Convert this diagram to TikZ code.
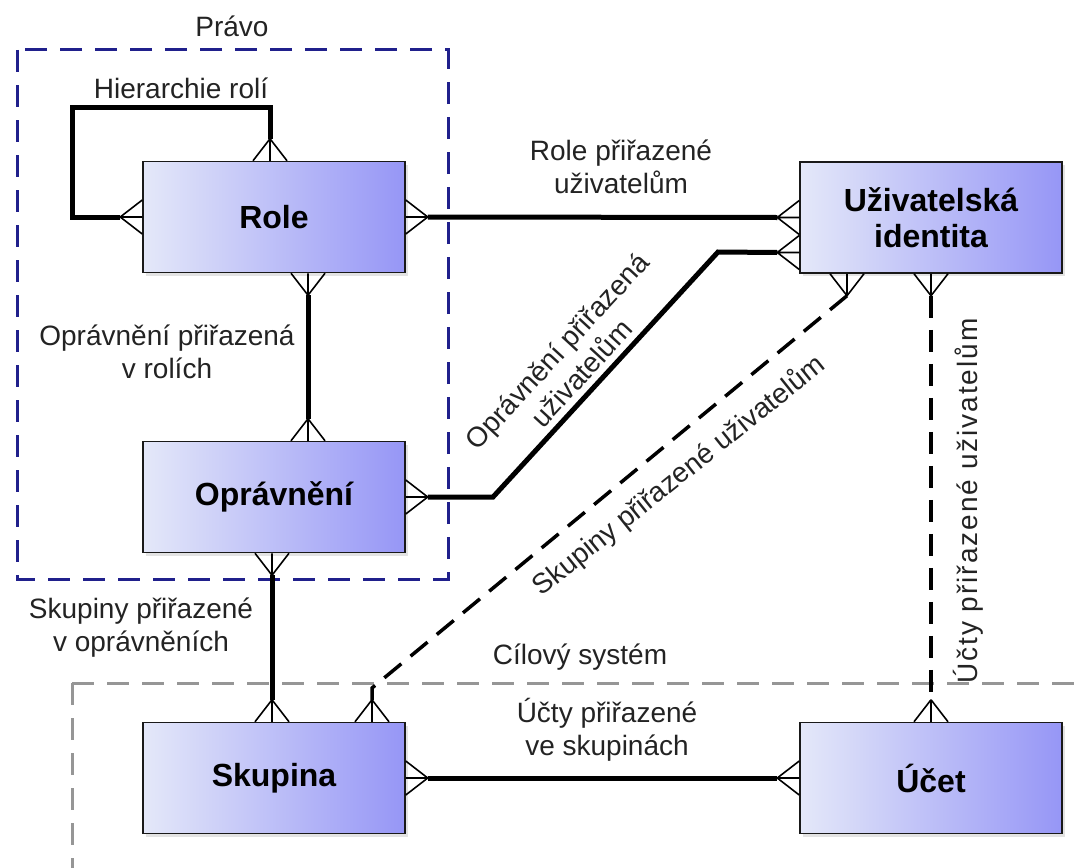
\documentclass[tikz,border=0pt]{standalone}
\usepackage{fontspec}
\setmainfont{Liberation Sans}
\usetikzlibrary{calc,shadows}
\definecolor{entlight}{RGB}{228,232,249}
\definecolor{entdark}{RGB}{150,150,246}
\definecolor{entborder}{RGB}{25,25,25}
\definecolor{labelgray}{RGB}{35,35,35}
\definecolor{scopeblue}{RGB}{32,32,140}
\definecolor{scopegray}{RGB}{150,150,150}

% crow's foot: #1 = attachment point on the box, (#2,#3) = unit direction away from the box
\newcommand\crowfoot[3]{%
  \draw[foot] ($(#1)+(22*#2,22*#3)$) coordinate (cfapex) -- (#1)
    (cfapex) -- ($(#1)+(17*#3,17*#2)$)
    (cfapex) -- ($(#1)+(-17*#3,-17*#2)$);}

\begin{document}
\begin{tikzpicture}[x=1pt,y=-1pt,
  entity/.style={draw=entborder, line width=1.5pt, minimum width=262pt,
    minimum height=111pt, inner sep=0pt, left color=entlight, right color=entdark,
    drop shadow={opacity=0.22, shadow xshift=3pt, shadow yshift=-3pt},
    font=\fontsize{32}{36}\selectfont\bfseries, align=center, text=black},
  lbl/.style={font=\fontsize{28}{33}\selectfont, align=center, text=labelgray, inner sep=0pt},
  conn/.style={line width=5pt, line join=miter},
  dconn/.style={line width=3.5pt, dash pattern=on 22pt off 12pt},
  foot/.style={line width=1.6pt},
  scopeline/.style={line width=3pt, dash pattern=on 22pt off 13pt},
]
\useasboundingbox (0,0) rectangle (1081,867);

% scope frames
\draw[scopeline, scopeblue] (17,50) rectangle (448,579);
\coordinate (gcorner) at (72,683);
\draw[scopeline, scopegray] (gcorner) -- (72,875);
\draw[scopeline, scopegray] (gcorner) -- (1090,683);

% entities
\node[entity] (role) at (274,217) {Role};
\node[entity] (uziv) at (931,217.5) {Uživatelská\\identita};
\node[entity] (opr)  at (274,497) {Oprávnění};
\node[entity] (skup) at (274,778) {Skupina};
\node[entity] (ucet) at (931,778) {Účet};

% attachment points
\coordinate (rL)  at (role.west);
\coordinate (rT)  at ($(role.north)+(-4,0)$);
\coordinate (rR)  at (role.east);
\coordinate (rB)  at ($(role.south)+(34,0)$);
\coordinate (oT)  at ($(opr.north)+(34,0)$);
\coordinate (oR)  at (opr.east);
\coordinate (oB)  at ($(opr.south)+(-2,0)$);
\coordinate (sT1) at ($(skup.north)+(-2,0)$);
\coordinate (sT2) at ($(skup.north)+(98,0)$);
\coordinate (sR)  at (skup.east);
\coordinate (uL1) at (uziv.west);
\coordinate (uL2) at ($(uziv.west)+(0,35)$);
\coordinate (uB1) at ($(uziv.south)+(-84,0)$);
\coordinate (uB2) at (uziv.south);
\coordinate (cT)  at (ucet.north);
\coordinate (cL)  at (ucet.west);

% bend points
\coordinate (loopA) at (72,217);
\coordinate (loopB) at (72,107);
\coordinate (loopC) at (270,107);
\coordinate (oprA) at (493,497);
\coordinate (oprB) at (718,252);
\coordinate (grpA) at (372,688);

% relationships
\draw[conn] ($(rL)+(-22,0)$) -- (loopA) -- (loopB) -- (loopC) -- ($(rT)+(0,-22)$);
\draw[conn] ($(rR)+(22,0)$) -- ($(uL1)+(-22,0)$);
\draw[conn] ($(oR)+(22,0)$) -- (oprA) -- (oprB) -- ($(uL2)+(-22,0)$);
\draw[conn] ($(rB)+(0,22)$) -- ($(oT)+(0,-22)$);
\draw[conn] ($(oB)+(0,22)$) -- ($(sT1)+(0,-22)$);
\draw[conn] ($(sR)+(22,0)$) -- ($(cL)+(-22,0)$);
\draw[dconn] ($(uB1)+(0,22)$) -- (grpA) -- ($(sT2)+(0,-22)$);
\draw[dconn] ($(uB2)+(0,22)$) -- ($(cT)+(0,-22)$);

% crow's feet
\crowfoot{rL}{-1}{0}
\crowfoot{rT}{0}{-1}
\crowfoot{rR}{1}{0}
\crowfoot{rB}{0}{1}
\crowfoot{oT}{0}{-1}
\crowfoot{oR}{1}{0}
\crowfoot{oB}{0}{1}
\crowfoot{sT1}{0}{-1}
\crowfoot{sT2}{0}{-1}
\crowfoot{sR}{1}{0}
\crowfoot{uL1}{-1}{0}
\crowfoot{uL2}{-1}{0}
\crowfoot{uB1}{0}{1}
\crowfoot{uB2}{0}{1}
\crowfoot{cT}{0}{-1}
\crowfoot{cL}{-1}{0}

% labels
\node[lbl] (lPravo) at (232,26) {Právo};
\node[lbl] (lHier) at (181,88) {Hierarchie rolí};
\node[lbl] (lRoleUz) at (621,167) {Role přiřazené\\uživatelům};
\node[lbl] (lOprRole) at (167,352) {Oprávnění přiřazená\\v rolích};
\node[lbl] (lSkOpr) at (141,628) {Skupiny přiřazené\\v oprávněních};
\node[lbl] (lCil) at (580,657) {Cílový systém};
\node[lbl] (lUcSk) at (607,730) {Účty přiřazené\\ve skupinách};
\node[lbl, rotate=47.4] (lOprUz) at (569,362) {Oprávnění přiřazená\\uživatelům};
\node[lbl, rotate=38.7] (lSkUz) at (679,476) {Skupiny přiřazené uživatelům};
\node[lbl, rotate=90] (lUcUz) at (968,501) {\addfontfeature{LetterSpace=7}Účty přiřazené uživatelům};
\end{tikzpicture}
\end{document}
